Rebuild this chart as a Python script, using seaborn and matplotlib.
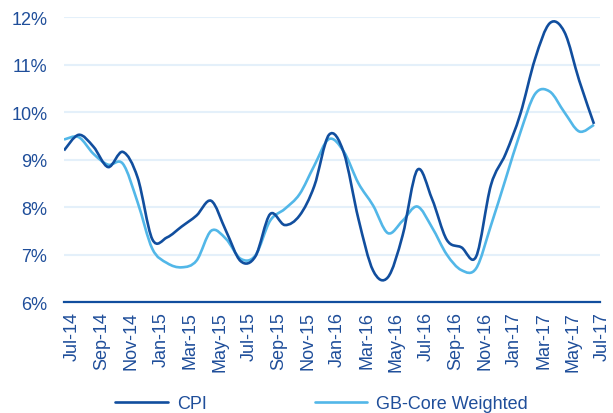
import numpy as np
import pandas as pd
import matplotlib
matplotlib.use("Agg")
import matplotlib.pyplot as plt
import seaborn as sns
from matplotlib.path import Path
from matplotlib.patches import PathPatch
from matplotlib.lines import Line2D
from matplotlib.ticker import PercentFormatter, FixedLocator

# ---- data (monthly, Jul-14 .. Jul-17) ----
months = ["Jul-14", "Aug-14", "Sep-14", "Oct-14", "Nov-14", "Dec-14",
          "Jan-15", "Feb-15", "Mar-15", "Apr-15", "May-15", "Jun-15",
          "Jul-15", "Aug-15", "Sep-15", "Oct-15", "Nov-15", "Dec-15",
          "Jan-16", "Feb-16", "Mar-16", "Apr-16", "May-16", "Jun-16",
          "Jul-16", "Aug-16", "Sep-16", "Oct-16", "Nov-16", "Dec-16",
          "Jan-17", "Feb-17", "Mar-17", "Apr-17", "May-17", "Jun-17",
          "Jul-17"]
cpi = [9.19, 9.52, 9.27, 8.84, 9.16, 8.62, 7.32, 7.36, 7.59, 7.82, 8.13, 7.50,
       6.86, 6.96, 7.85, 7.62, 7.82, 8.44, 9.52, 9.15, 7.75, 6.66, 6.52, 7.40,
       8.78, 8.17, 7.31, 7.15, 6.96, 8.46, 9.12, 9.96, 11.12, 11.87, 11.68, 10.66,
       9.75]
gb_core = [9.42, 9.47, 9.12, 8.89, 8.91, 8.10, 7.12, 6.82, 6.73, 6.87, 7.50, 7.33,
           6.91, 6.98, 7.71, 7.96, 8.27, 8.87, 9.43, 9.17, 8.50, 8.03, 7.45, 7.71,
           8.01, 7.57, 7.00, 6.67, 6.71, 7.61, 8.59, 9.57, 10.38, 10.43, 9.99, 9.59,
           9.73]
series_names = ["CPI", "GB-Core Weighted"]
y_ticks = [6, 7, 8, 9, 10, 11, 12]

DARK = "#114E9E"
LIGHT = "#52B7E8"
TEXT = "#1F4E9A"
GRID = "#E4F0FA"

sns.set_style("white")
plt.rcParams["font.family"] = ["Liberation Sans", "DejaVu Sans"]

df = pd.DataFrame({
    "idx": list(range(len(months))) * 2,
    "value": cpi + gb_core,
    "series": [series_names[0]] * len(months) + [series_names[1]] * len(months),
})

fig = plt.figure(figsize=(6.13, 4.14), dpi=100)
ax = fig.add_axes([64 / 613, 1 - 303 / 414, (600 - 64) / 613, (303 - 18) / 414])

sns.lineplot(data=df, x="idx", y="value", hue="series",
             palette={series_names[0]: DARK, series_names[1]: LIGHT},
             legend=False, ax=ax, linewidth=1.9)


def smooth_path(xy):
    """Excel-like smoothed line: Catmull-Rom as cubic Bezier through the data."""
    n = len(xy)
    verts = [xy[0]]
    codes = [Path.MOVETO]
    for i in range(n - 1):
        p_prev = xy[i - 1] if i > 0 else xy[i]
        p0 = xy[i]
        p1 = xy[i + 1]
        p_next = xy[i + 2] if i + 2 < n else xy[i + 1]
        c1 = p0 + (p1 - p_prev) / 6.0
        c2 = p1 - (p_next - p0) / 6.0
        verts += [c1, c2, p1]
        codes += [Path.CURVE4] * 3
    return Path(np.array(verts), codes)


lines = list(ax.get_lines())
for ln in lines:
    xy = ln.get_xydata()
    patch = PathPatch(smooth_path(xy), facecolor="none", edgecolor=ln.get_color(),
                      lw=1.9, capstyle="butt", joinstyle="round",
                      zorder=3 if ln.get_color() == DARK else 2.5)
    ax.add_patch(patch)
    ln.set_visible(False)

ax.set_xlim(0, 36.41)
ax.set_ylim(6, 12)
ax.set_xlabel("")
ax.set_ylabel("")

ax.xaxis.set_major_locator(FixedLocator(list(range(0, len(months), 2))))
ax.set_xticklabels(months[::2], rotation=90, fontsize=13, color=TEXT, ha="left")
ax.yaxis.set_major_locator(FixedLocator(y_ticks))
ax.yaxis.set_major_formatter(PercentFormatter(decimals=0))
for lab in ax.get_yticklabels():
    lab.set_fontsize(13)
    lab.set_color(TEXT)

ax.tick_params(axis="y", length=0, pad=12)
ax.tick_params(axis="x", length=5, width=1, direction="inout", color=DARK, pad=4)

ax.grid(axis="y", color=GRID, linewidth=1.5)
ax.grid(axis="x", visible=False)
for s in ["top", "right", "left"]:
    ax.spines[s].set_visible(False)
ax.spines["bottom"].set_color(DARK)
ax.spines["bottom"].set_linewidth(1.6)
ax.spines["bottom"].set_zorder(4)

handles = [Line2D([], [], color=DARK, lw=1.9), Line2D([], [], color=LIGHT, lw=1.9)]
leg = fig.legend(handles, series_names, loc="center", bbox_to_anchor=(0.525, 0.022),
                 ncol=2, frameon=False, fontsize=13, handlelength=2.9,
                 handletextpad=0.5, columnspacing=6.0, borderaxespad=0, borderpad=0)
for t in leg.get_texts():
    t.set_color(TEXT)

fig.savefig("out.png", dpi=100)
